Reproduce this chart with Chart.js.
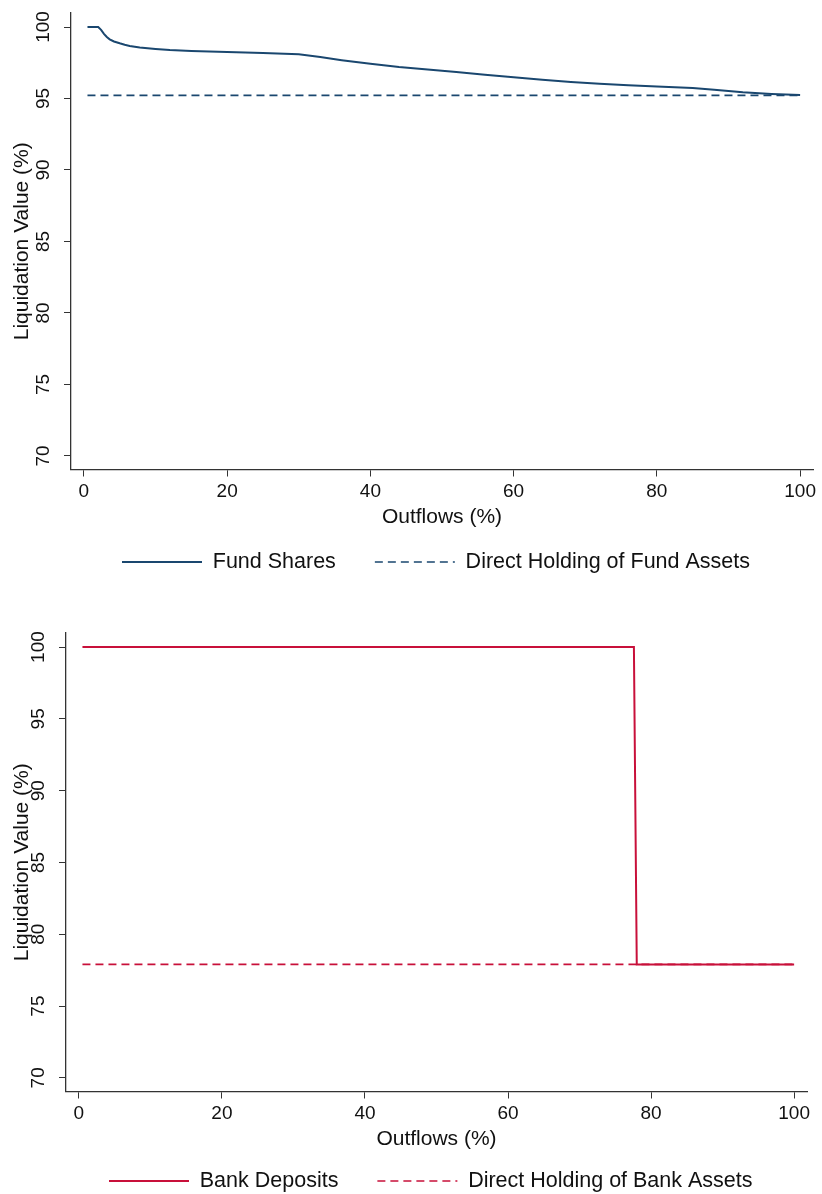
<!DOCTYPE html>
<html>
<head>
<meta charset="utf-8">
<script src="https://cdn.jsdelivr.net/npm/chart.js@4.4.1/dist/chart.umd.min.js"></script>
<style>
html,body{margin:0;padding:0;background:#fff;overflow:hidden;width:822px;height:1194px;}
#c1{position:absolute;left:0;top:0;}
#c2{position:absolute;left:0;top:600px;}
</style>
</head>
<body>
<canvas id="c1" width="822" height="600"></canvas>
<canvas id="c2" width="822" height="622"></canvas>
<script>
// ---------- data ----------
const fundOutflows = [0.5, 2, 2.4, 2.8, 3.2, 3.6, 4.2, 5, 5.7, 6.4, 7.8, 10, 12, 15, 20, 25, 30, 33, 36, 40, 44, 48, 52, 56, 60, 64, 68, 72, 76, 80, 85, 88, 92, 96, 100];
const fundShares   = [100, 100, 99.8, 99.52, 99.3, 99.14, 98.99, 98.86, 98.76, 98.67, 98.56, 98.46, 98.39, 98.32, 98.25, 98.18, 98.1, 97.9, 97.68, 97.43, 97.2, 97.02, 96.86, 96.66, 96.48, 96.31, 96.16, 96.03, 95.93, 95.84, 95.74, 95.61, 95.44, 95.32, 95.24];
const fundDirectOutflows = [0.5, 100];
const fundDirect   = [95.22, 95.22];

const bankOutflows = [0.5, 77.6, 78.0, 100];
const bankDeposits = [100, 100, 77.9, 77.9];
const bankDirectOutflows = [0.5, 100];
const bankDirect   = [77.9, 77.9];

const xTickValues = [0, 20, 40, 60, 80, 100];
const yTickValues = [70, 75, 80, 85, 90, 95, 100];

const seriesNames = {
  fund: ['Fund Shares', 'Direct Holding of Fund Assets'],
  bank: ['Bank Deposits', 'Direct Holding of Bank Assets']
};

// ---------- styling ----------
const FONT = "'Liberation Sans', Arial, Helvetica, sans-serif";
const NAVY = '#1a476f';
const RED = '#c8103a';
const AXIS = '#333333';

function pts(xs, ys) { return xs.map((x, i) => ({x: x, y: ys[i]})); }

const legendShift = {
  id: 'legendShift',
  afterLayout(chart, args, opts) {
    const l = chart.legend;
    if (!l || !l.lineWidths) return;
    const pad = l.options.labels.padding;
    const fs = l.options.labels.font.size;
    const startX = (l.left + pad + l.right - l.lineWidths[0]) / 2;
    const centerY = l.top + pad + fs / 2;
    const dx = opts.startX - startX;
    const dy = opts.centerY - centerY;
    l.left += dx; l.right += dx; l.top += dy; l.bottom += dy;
  }
};

function legendLabels(chart) {
  const items = Chart.defaults.plugins.legend.labels.generateLabels(chart);
  items.forEach(it => {
    const ds = chart.data.datasets[it.datasetIndex];
    it.lineDash = ds.borderDash || [];
    it.lineWidth = ds.borderWidth;
    it.strokeStyle = ds.borderColor;
    it.fillStyle = ds.borderColor;
  });
  return items;
}

function makeChart(canvasId, cfg) {
  return new Chart(document.getElementById(canvasId), {
    type: 'line',
    data: {
      datasets: [
        {
          label: cfg.names[0],
          data: pts(cfg.x1, cfg.y1),
          borderColor: cfg.color,
          backgroundColor: cfg.color,
          borderWidth: 2,
          pointRadius: 0,
          tension: 0,
          fill: false
        },
        {
          label: cfg.names[1],
          data: pts(cfg.x2, cfg.y2),
          borderColor: cfg.color,
          backgroundColor: cfg.color,
          borderWidth: 1.7,
          borderDash: [8, 5],
          pointRadius: 0,
          tension: 0,
          fill: false
        }
      ]
    },
    options: {
      responsive: false,
      animation: false,
      devicePixelRatio: 1,
      layout: { padding: cfg.padding },
      plugins: {
        tooltip: { enabled: false },
        legend: {
          position: 'bottom',
          labels: {
            usePointStyle: true,
            pointStyle: 'line',
            pointStyleWidth: 80,
            boxHeight: 21.5,
            padding: 39,
            color: '#111',
            font: { family: FONT, size: 21.5 },
            generateLabels: legendLabels
          }
        },
        legendShift: cfg.legendPos
      },
      scales: {
        x: {
          type: 'linear',
          min: -1.8,
          max: 101.8,
          afterBuildTicks: s => { s.ticks = xTickValues.map(v => ({value: v})); },
          afterFit: s => { s.height = 60; s.paddingLeft = 0; s.paddingRight = 0; },
          grid: { display: true, drawOnChartArea: false, drawTicks: true, tickLength: 7, color: AXIS, lineWidth: 1 },
          border: { display: true, color: AXIS, width: 1.3 },
          ticks: { color: '#111', padding: 4, maxRotation: 0, font: { family: FONT, size: 19 } },
          title: { display: true, text: 'Outflows (%)', color: '#111', padding: { top: 0, bottom: 0 }, font: { family: FONT, size: 21 } }
        },
        y: {
          type: 'linear',
          min: 69.05,
          max: 100.98,
          afterBuildTicks: s => { s.ticks = yTickValues.map(v => ({value: v})); },
          afterFit: s => { s.width = cfg.yWidth; s.paddingTop = 0; s.paddingBottom = 0; },
          grid: { display: true, drawOnChartArea: false, drawTicks: true, tickLength: 7, color: AXIS, lineWidth: 1 },
          border: { display: true, color: AXIS, width: 1.3 },
          ticks: { color: '#111', padding: 4, crossAlign: 'center', minRotation: 90, maxRotation: 90, font: { family: FONT, size: 19 } },
          title: { display: true, text: 'Liquidation Value (%)', color: '#111', padding: { top: 10, bottom: 0 }, font: { family: FONT, size: 21 } }
        }
      }
    },
    plugins: [legendShift]
  });
}

makeChart('c1', {
  names: seriesNames.fund,
  x1: fundOutflows, y1: fundShares,
  x2: fundDirectOutflows, y2: fundDirect,
  color: NAVY,
  padding: { top: 13, left: 0, right: 9, bottom: 0 },
  yWidth: 71,
  legendPos: { startX: 122, centerY: 562 }
});

makeChart('c2', {
  names: seriesNames.bank,
  x1: bankOutflows, y1: bankDeposits,
  x2: bankDirectOutflows, y2: bankDirect,
  color: RED,
  padding: { top: 33, left: 0, right: 15, bottom: 0 },
  yWidth: 66,
  legendPos: { startX: 109, centerY: 581 }
});
</script>
</body>
</html>
